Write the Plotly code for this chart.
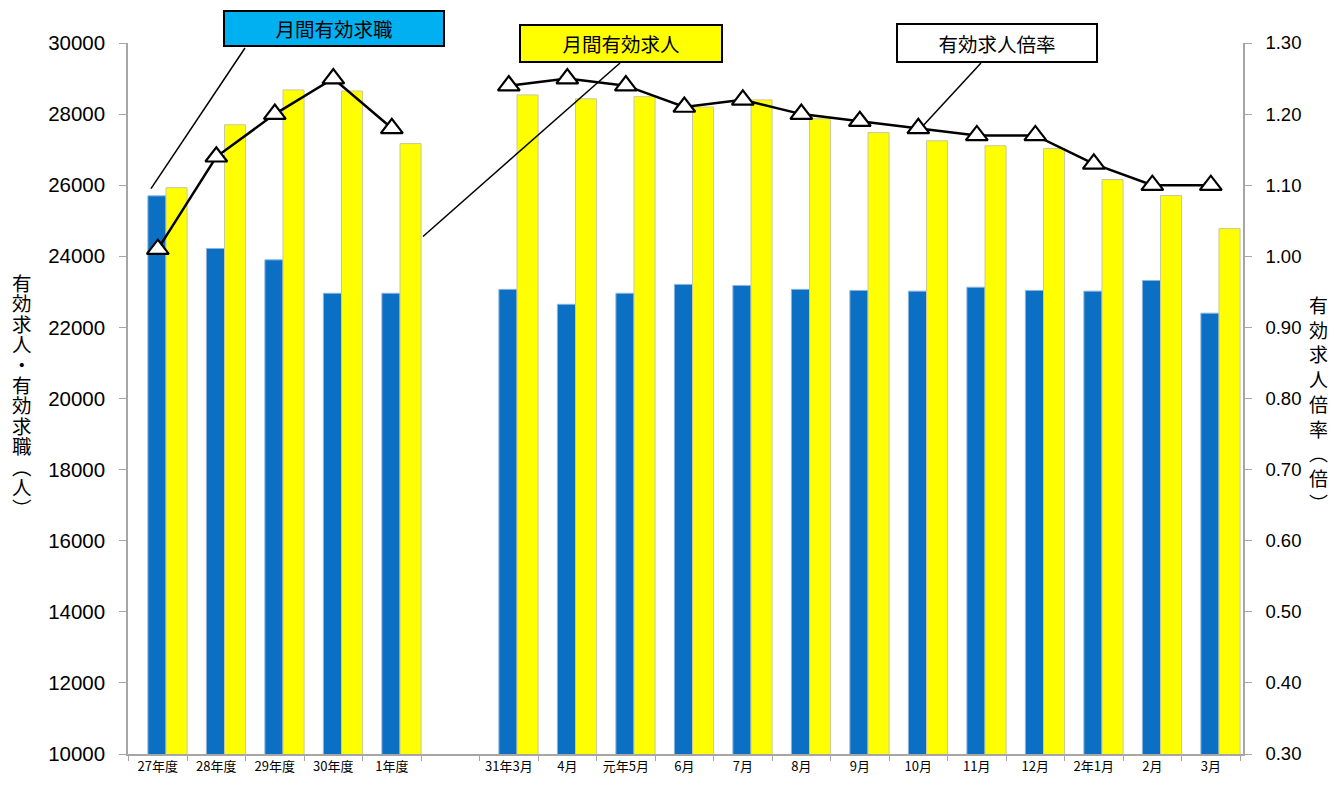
import plotly.graph_objects as go

categories = ["27年度", "28年度", "29年度", "30年度", "1年度", "",
              "31年3月", "4月", "元年5月", "6月", "7月", "8月", "9月",
              "10月", "11月", "12月", "2年1月", "2月", "3月"]
job_seekers = [25700, 24220, 23900, 22960, 22960, None,
               23070, 22650, 22960, 23210, 23180, 23070, 23040,
               23020, 23130, 23040, 23020, 23320, 22400]
job_offers = [25930, 27700, 28680, 28650, 27170, None,
              28540, 28430, 28490, 28200, 28400, 27870, 27480,
              27250, 27110, 27030, 26160, 25710, 24780]
ratio = [1.01, 1.14, 1.20, 1.25, 1.18, None,
         1.24, 1.25, 1.24, 1.21, 1.22, 1.20, 1.19,
         1.18, 1.17, 1.17, 1.13, 1.10, 1.10]
left_ticks = [10000, 12000, 14000, 16000, 18000, 20000, 22000, 24000, 26000, 28000, 30000]
right_ticks = [0.30, 0.40, 0.50, 0.60, 0.70, 0.80, 0.90, 1.00, 1.10, 1.20, 1.30]

xs = list(range(len(categories)))
label_vals = [i for i, c in enumerate(categories) if c]
label_text = [c for c in categories if c]

FONT = "Noto Sans CJK JP"
PL, PR, PT, PB = 128, 1243, 43, 756  # plot area pixels


def px(x):
    return (x - PL) / (PR - PL)


def py(y):
    return (PB - y) / (PB - PT)


fig = go.Figure()
fig.add_trace(go.Bar(
    x=xs, y=job_seekers, offset=-0.17, width=0.31,
    marker=dict(color="#0B6FC4", line=dict(color="#8FB4D9", width=1)),
    name="月間有効求職", showlegend=False))
fig.add_trace(go.Bar(
    x=xs, y=job_offers, offset=0.14, width=0.36,
    marker=dict(color="#FFFF00", line=dict(color="#C8C8A0", width=1)),
    name="月間有効求人", showlegend=False))
fig.add_trace(go.Scatter(
    x=xs, y=ratio, yaxis="y2", mode="lines+markers",
    line=dict(color="black", width=2.5),
    marker=dict(symbol="triangle-up", size=19, color="white",
                line=dict(color="black", width=2.2)),
    connectgaps=False, name="有効求人倍率", showlegend=False))

fig.update_layout(
    width=1339, height=787,
    margin=dict(l=PL, r=1339 - PR, t=PT, b=787 - PB),
    plot_bgcolor="white", paper_bgcolor="white",
    barmode="overlay",
    font=dict(family=FONT, color="black"),
    xaxis=dict(
        range=[-0.51, 18.55], tickvals=label_vals, ticktext=label_text,
        ticks="", showgrid=False, zeroline=False,
        showline=True, linecolor="#A6A6A6", linewidth=1.5,
        tickfont=dict(size=13, family=FONT),
        minor=dict(tick0=-0.5, dtick=1, ticks="outside", ticklen=5,
                   tickcolor="#A6A6A6", showgrid=False),
    ),
    yaxis=dict(
        range=[10000, 30000], tickvals=left_ticks, tickformat="d",
        ticks="outside", ticklen=7, tickcolor="#A6A6A6",
        ticklabelstandoff=10,
        showgrid=False, zeroline=False,
        showline=True, linecolor="#A6A6A6", linewidth=1.5,
        tickfont=dict(size=20.5, family="Liberation Sans"),
    ),
    yaxis2=dict(
        range=[0.30, 1.30], tickvals=right_ticks, tickformat=".2f",
        overlaying="y", side="right",
        ticks="outside", ticklen=7, tickcolor="#A6A6A6",
        ticklabelstandoff=10,
        showgrid=False, zeroline=False,
        showline=True, linecolor="#A6A6A6", linewidth=1.5,
        tickfont=dict(size=18.5, family="Liberation Sans"),
    ),
)

# vertical axis titles (stacked characters)
left_title = "有効求人・有効求職︵人︶"
right_title = "有効求人倍率︵倍︶"
for i, ch in enumerate(left_title):
    fig.add_annotation(xref="paper", yref="paper", x=px(22), y=py(283 + 20.5 * i),
                       text=ch, showarrow=False, xanchor="center", yanchor="middle",
                       font=dict(size=19.5, family=FONT))
fig.add_annotation(xref="paper", yref="paper", x=px(1318), y=py(405),
                   text="<br>".join(right_title), showarrow=False,
                   xanchor="center", yanchor="middle", align="center",
                   font=dict(size=19, family=FONT))

# callout boxes
fig.add_annotation(xref="paper", yref="paper", x=px(334), y=py(28),
                   xanchor="center", yanchor="middle",
                   text="月間有効求職", showarrow=False,
                   bgcolor="#00B0F0", bordercolor="black", borderwidth=2, borderpad=0,
                   width=218, height=33, font=dict(size=19.5, family=FONT))
fig.add_annotation(xref="paper", yref="paper", x=px(621), y=py(43),
                   xanchor="center", yanchor="middle",
                   text="月間有効求人", showarrow=False,
                   bgcolor="#FFFF00", bordercolor="black", borderwidth=2, borderpad=0,
                   width=200, height=35, font=dict(size=19.5, family=FONT))
fig.add_annotation(xref="paper", yref="paper", x=px(996.5), y=py(43),
                   xanchor="center", yanchor="middle",
                   text="有効求人倍率", showarrow=False,
                   bgcolor="white", bordercolor="black", borderwidth=2, borderpad=0,
                   width=198, height=36, font=dict(size=19.5, family=FONT))

# leader lines
for (x0, y0, x1, y1) in [(245, 48, 151, 189),
                         (620, 63, 423, 237),
                         (981, 63, 924, 125)]:
    fig.add_shape(type="line", xref="paper", yref="paper",
                  x0=px(x0), y0=py(y0), x1=px(x1), y1=py(y1),
                  line=dict(color="black", width=1.5))

fig.write_html("out.html")
